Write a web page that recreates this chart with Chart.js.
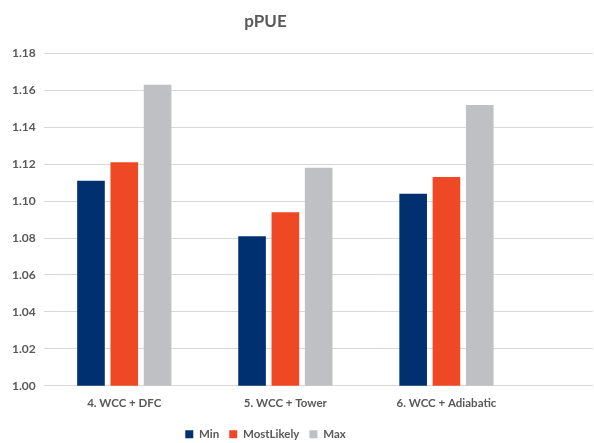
<!DOCTYPE html>
<html>
<head>
<meta charset="utf-8">
<script src="https://cdn.jsdelivr.net/npm/chart.js@4/dist/chart.umd.min.js"></script>
<style>
  html, body { margin: 0; padding: 0; background: #fff; }
  #wrap { width: 594px; height: 443px; }
</style>
</head>
<body>
<div id="wrap"><canvas id="ppue_chart"></canvas></div>
<script>
const categories = ['4. WCC + DFC', '5. WCC + Tower', '6. WCC + Adiabatic'];
const minValues = [1.111, 1.081, 1.104];
const mostLikelyValues = [1.121, 1.094, 1.113];
const maxValues = [1.163, 1.118, 1.152];
const yTicks = [1.00, 1.02, 1.04, 1.06, 1.08, 1.10, 1.12, 1.14, 1.16, 1.18];

const FONT = "Lato, 'Open Sans', sans-serif";
const TEXT = '#595959';
const GRID = '#d9d9d9';

// gridlines in the original run past the last category to the right edge
const extendGrid = {
  id: 'extendGrid',
  beforeDatasetsDraw(chart) {
    const { ctx, chartArea, scales } = chart;
    ctx.save();
    ctx.strokeStyle = GRID;
    ctx.lineWidth = 1;
    yTicks.forEach(v => {
      const y = Math.round(scales.y.getPixelForValue(v) - 0.5) + 0.5;
      ctx.beginPath();
      ctx.moveTo(chartArea.right, y);
      ctx.lineTo(593, y);
      ctx.stroke();
    });
    ctx.restore();
  }
};

const ctx = document.getElementById('ppue_chart');

new Chart(ctx, {
  type: 'bar',
  data: {
    labels: categories,
    datasets: [
      { label: 'Min', data: minValues, backgroundColor: '#00306f' },
      { label: 'MostLikely', data: mostLikelyValues, backgroundColor: '#ef4824' },
      { label: 'Max', data: maxValues, backgroundColor: '#bfc0c3' }
    ]
  },
  options: {
    responsive: true,
    maintainAspectRatio: false,
    animation: false,
    layout: { padding: { left: 4, right: 67, top: 4, bottom: -7 } },
    datasets: {
      bar: { categoryPercentage: 0.62, barPercentage: 0.83 }
    },
    plugins: {
      legend: {
        position: 'bottom',
        labels: {
          boxWidth: 8,
          boxHeight: 8,
          padding: 10,
          color: TEXT,
          font: { family: FONT, size: 11.5, weight: 'bold' }
        }
      },
      title: {
        display: true,
        text: 'pPUE',
        color: TEXT,
        padding: { top: 7, bottom: 22 },
        font: { family: FONT, size: 17, weight: 'bold' }
      },
      tooltip: { enabled: false }
    },
    scales: {
      x: {
        grid: { display: false, drawTicks: false },
        border: { display: false },
        afterFit: axis => { axis.height -= 3; },
        ticks: {
          color: TEXT,
          padding: 11,
          font: { family: FONT, size: 11.5, weight: 'bold' }
        }
      },
      y: {
        min: 1.00,
        max: 1.18,
        afterBuildTicks: axis => { axis.ticks = yTicks.map(v => ({ value: v })); },
        grid: { color: GRID, drawTicks: false },
        border: { display: false },
        ticks: {
          color: TEXT,
          padding: 8,
          font: { family: FONT, size: 12, weight: 'bold' },
          callback: v => v.toFixed(2)
        }
      }
    }
  },
  plugins: [extendGrid]
});
</script>
</body>
</html>
